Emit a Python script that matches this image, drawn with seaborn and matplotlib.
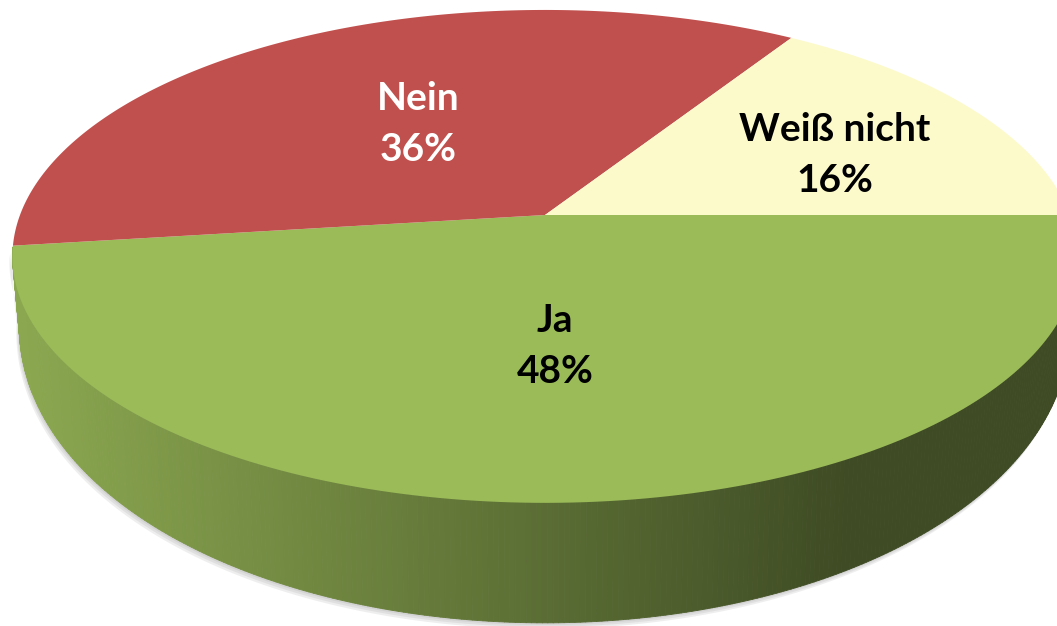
import numpy as np
import matplotlib
matplotlib.use("Agg")
import matplotlib.pyplot as plt
import matplotlib.transforms as mtransforms
from matplotlib.path import Path
from matplotlib.collections import PolyCollection
from matplotlib.colors import to_rgb
import seaborn as sns

# survey answers
labels = ["Ja", "Nein", "Weiß nicht"]
shares = [48, 36, 16]
colors = ["#9bbb59", "#c0504d", "#fcfacb"]
text_colors = ["black", "white", "black"]

# projection of the unit pie onto the canvas (pixels, y down)
CX, CY = 545, 215
RX, RY = 525, 239.5
TILT = 0.168
VISIBLE_FROM = -172.0  # side of the disc is seen from here to 0 deg


def project(x, y):
    w = 1 + TILT * y
    return CX + RX * x / w, CY - RY * y / w


class TiltTransform(mtransforms.Transform):
    input_dims = output_dims = 2
    is_separable = False
    has_inverse = False

    def transform_non_affine(self, values):
        v = np.asarray(values, dtype=float)
        X, Y = project(v[:, 0], v[:, 1])
        return np.column_stack([X, Y])

    def transform_path_non_affine(self, path):
        # sample every bezier piece densely so the tilted arcs stay smooth
        pts = []
        for seg, code in path.iter_bezier():
            if code == Path.MOVETO:
                continue
            pts.append(seg(np.linspace(0, 1, 40)))
        verts = np.concatenate(pts)
        return Path(self.transform_non_affine(verts), closed=True)


def side_point(t):
    x, y = np.cos(t), np.sin(t)
    X, Y = project(x, y)
    return CX + (X - CX) * 0.987, Y + 60 + 60 * (-y)


sns.set_theme(style="white")
plt.rcParams["font.family"] = ["Lato", "DejaVu Sans"]

fig = plt.figure(figsize=(10.57, 6.26), dpi=100)
ax = fig.add_axes([0, 0, 1, 1])

wedges, _ = ax.pie(shares, colors=colors, startangle=0, counterclock=False,
                   radius=1, center=(0, 0), wedgeprops=dict(linewidth=0))
tilt = TiltTransform()
for w in wedges:
    w.set_transform(tilt + ax.transData)
    w.set_zorder(3)

# side band and soft shadow
for w, c in zip(wedges, colors):
    lo, hi = max(w.theta1, VISIBLE_FROM), min(w.theta2, 0.0)
    if hi <= lo:
        continue
    ts = np.radians(np.linspace(lo, hi, int((hi - lo) * 2) + 2))
    tx, ty = project(np.cos(ts), np.sin(ts))
    bx, by = side_point(ts)
    base = np.array(to_rgb(c))
    quads, fc = [], []
    for i in range(len(ts) - 1):
        quads.append([(tx[i], ty[i] - 2), (tx[i + 1], ty[i + 1] - 2),
                      (bx[i + 1], by[i + 1]), (bx[i], by[i])])
        f = 0.9 - 0.5 * np.clip((tx[i] - 15) / 835, 0, 1)
        fc.append(np.clip(base * f, 0, 1))
    ax.add_collection(PolyCollection(quads, facecolors=fc, edgecolors=fc,
                                     linewidths=0.6, zorder=2))
    outline = np.column_stack([np.r_[tx, bx[::-1]], np.r_[ty, by[::-1]]])
    for dx, dy in [(-1, 2), (-2, 4), (-3, 6)]:
        ax.fill(outline[:, 0] + dx, outline[:, 1] + dy, color="#7f7f7f",
                alpha=0.13, lw=0, zorder=1)

# labels on the slices
label_r = [0.5, 0.48, 0.633]
label_turn = [-1.6, 0.0, -4.4]
for w, lab, s, tc, r, dt in zip(wedges, labels, shares, text_colors,
                                label_r, label_turn):
    mid = np.radians((w.theta1 + w.theta2) / 2 + dt)
    px, py = project(r * np.cos(mid), r * np.sin(mid))
    ax.text(px, py, f"{lab}\n{s}%", ha="center", va="center",
            multialignment="center", color=tc, fontsize=28,
            fontweight="bold", linespacing=1.55, zorder=5)

ax.set_aspect("auto")
ax.set_xlim(0, 1057)
ax.set_ylim(626, 0)
ax.axis("off")

fig.savefig("out.png", dpi=100, facecolor="white")
